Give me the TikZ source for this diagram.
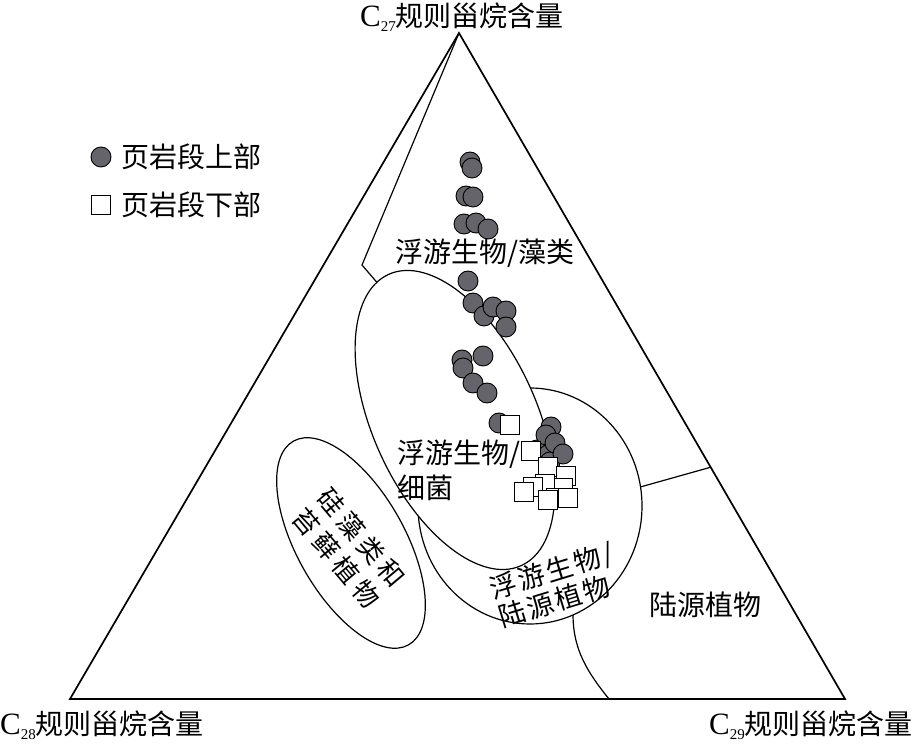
\documentclass[tikz,border=0pt]{standalone}
\usepackage{fontspec}
\setmainfont{Liberation Serif}
\newfontfamily\cjk{Noto Sans CJK SC}
\newfontfamily\cjkmid{Noto Sans CJK SC}[LetterSpace=8]
\newfontfamily\cjkwide{Noto Sans CJK SC}[LetterSpace=20]
\usetikzlibrary{calc}
\definecolor{shalegray}{RGB}{100,100,106}
\newcommand{\sterane}[1]{{\fontsize{31}{31}\selectfont C}\raisebox{-0.35ex}{\fontsize{15}{15}\selectfont #1}{\cjk 规则甾烷含量}}
\tikzset{
side/.style={line width=1.7pt, line join=miter},
border/.style={line width=1.2pt},
field/.style={line width=1.2pt, fill=white},
regionlbl/.style={font=\fontsize{28}{35}\selectfont\cjk, inner sep=0pt},
axislbl/.style={font=\fontsize{28}{34}\selectfont, inner sep=0pt},
upperpt/.pic={
  \draw[fill=shalegray, line width=0.9pt] (0,0) circle [radius=10pt];
  },
lowerpt/.pic={
  \draw[fill=white, line width=1pt] (-9.5pt,-9.5pt) rectangle (9.5pt,9.5pt);
  }
}
\begin{document}
\begin{tikzpicture}[x=1pt,y=1pt]
\useasboundingbox (0,0) rectangle (922,745);
\coordinate (top) at (459,712);
\coordinate (b28) at (70,46);
\coordinate (b29) at (845,46);
\coordinate (kink) at (362,480);
\coordinate (midc) at (530,239);
\coordinate (bigc) at (455,325);
\coordinate (smallc) at (351,202);

% field borders
\draw[border] (top) -- (kink) -- (392,445);
\draw[border] ($(b29)!0.348!(top)$) -- ($(midc)+(9.3:112pt and 118pt)$);
\draw[border] ($(midc)+(-67.4:112pt and 118pt)$) .. controls (573,95) and (588,72) .. (609,46);
\draw[side] (b28) -- (top) -- (b29) -- cycle;

\draw[field] (midc) ellipse [x radius=112pt, y radius=118pt];
\draw[field, rotate around={-65.5:(bigc)}] (bigc) ellipse [x radius=160pt, y radius=82pt];
\draw[border, rotate around={-60.5:(smallc)}] (smallc) ellipse [x radius=117pt, y radius=54pt];

% samples
\foreach \px/\py in {470/583, 472/577, 466/549, 473/548, 464/521, 476/522, 488/516,
  468/464, 473/442, 484/429, 493/438, 506/434, 506/418,
  462/385, 463/377, 483/389, 473/362, 487/352, 499/322,
  537/295, 548/290, 550/283, 551/318, 546/310, 555/302, 563/291}
  \pic at (\px,\py) {upperpt};
\foreach \px/\py in {510/320, 531/294, 548/278, 566/269, 563/257, 545/261, 533/258,
  524/253, 556/247, 548/245, 568/247}
  \pic at (\px,\py) {lowerpt};

% legend
\pic at (101,588) {upperpt};
\node[regionlbl, anchor=west] (legup) at (121,588) {页岩段上部};
\pic at (101,540) {lowerpt};
\node[regionlbl, anchor=west] (leglow) at (121,540) {页岩段下部};

% axes
\node[axislbl] (lbl27) at (462,728) {\sterane{27}};
\node[axislbl] (lbl28) at (102,20) {\sterane{28}};
\node[axislbl] (lbl29) at (811,20) {\sterane{29}};

% fields
\node[regionlbl] (algae) at (485,492) {浮游生物/藻类};
\node[regionlbl, anchor=west, align=left] (bacteria) at (397,275) {浮游生物/\\细菌};
\node[regionlbl] (terr) at (705,140) {陆源植物};
\node[regionlbl, font=\fontsize{27}{30}\selectfont\cjkmid, rotate=17, align=left] (mixed) at (556,160) {浮游生物/\\陆源植物};
\node[regionlbl, font=\fontsize{26}{32}\selectfont\cjkwide, rotate=-50, align=left] (diatom) at (349,197) {硅藻类和\\苔藓植物};
\end{tikzpicture}
\end{document}
